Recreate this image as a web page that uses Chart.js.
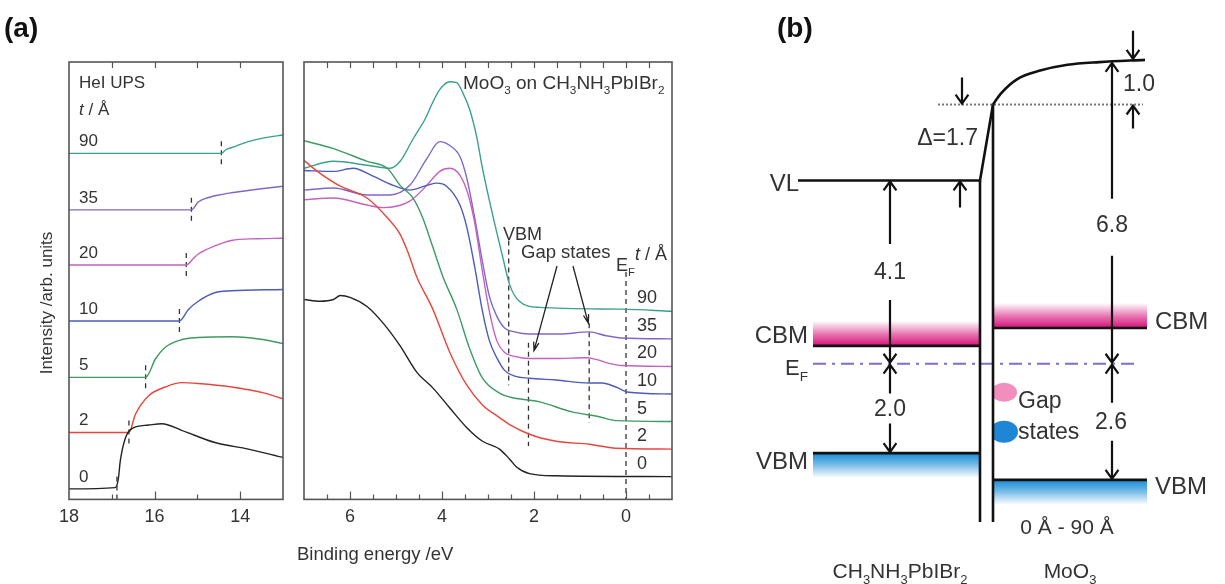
<!DOCTYPE html>
<html>
<head>
<meta charset="utf-8">
<script src="https://cdn.jsdelivr.net/npm/chart.js@4.4.1/dist/chart.umd.min.js"></script>
<style>
  html, body { margin: 0; padding: 0; background: #fff; }
  #wrap { position: relative; width: 1225px; height: 584px; overflow: hidden; }
  canvas { position: absolute; top: 0; }
</style>
</head>
<body>
<div id="wrap">
  <canvas id="cutoff" width="300" height="584" style="left:0"></canvas>
  <canvas id="valence" width="400" height="584" style="left:290px"></canvas>
  <canvas id="levels" width="525" height="584" style="left:700px"></canvas>
</div>
<script>
// MoO3 thickness steps (Å), bottom to top
var thickness = ['0', '2', '5', '10', '20', '35', '90'];
var lineColors = ['#222222', '#e8453c', '#3f9a62', '#4d5bbb', '#c462c2', '#7f67c9', '#3aa08f'];

// secondary electron cutoff, [binding energy eV, intensity arb.]
var cutoff0 = [[18, 2.4], [16.92, 2.7], [16.85, 4.5], [16.8, 8.9], [16.68, 14.1], [16.53, 16.2], [16.14, 17.0], [15.83, 17.3], [15.37, 15.8], [14.59, 13.0], [13.81, 11.5], [13.0, 9.6]];
var cutoff2 = [[18, 15.3], [16.6, 15.3], [16.45, 19.4], [16.14, 23.7], [15.75, 25.7], [15.37, 26.7], [14.98, 26.5], [14.2, 25.7], [13.43, 24.3], [13.0, 23.0]];
var cutoff5 = [[18, 27.9], [16.21, 27.9], [15.98, 32.1], [15.75, 34.8], [15.37, 36.5], [14.98, 37.0], [14.2, 37.2], [13.43, 36.5], [13.0, 35.6]];
var cutoff10 = [[18, 40.8], [15.42, 40.8], [15.21, 43.4], [14.98, 45.3], [14.58, 47.3], [14.21, 47.7], [13.0, 48.0]];
var cutoff20 = [[18, 53.6], [15.26, 53.6], [15.1, 55.0], [14.98, 56.1], [14.58, 58.0], [14.21, 59.2], [13.6, 59.6], [13.0, 59.7]];
var cutoff35 = [[18, 66.2], [15.14, 66.2], [14.98, 68.0], [14.81, 68.8], [14.5, 69.6], [14.21, 70.1], [13.6, 70.9], [13.0, 71.6]];
var cutoff90 = [[18, 79.1], [14.44, 79.1], [14.33, 80.0], [14.21, 80.4], [13.81, 81.8], [13.42, 82.7], [13.0, 83.3]];
var cutoffOnset = [16.88, 16.6, 16.21, 15.42, 15.26, 15.14, 14.44];

// valence band region, [binding energy eV, intensity arb.]
var valence0 = [[7.0, 45.7], [6.65, 45.3], [6.36, 45.7], [6.21, 46.6], [6.0, 46.2], [5.63, 44.1], [5.28, 40.3], [4.91, 35.1], [4.55, 29.1], [4.2, 25.5], [3.83, 20.9], [3.46, 16.4], [3.12, 13.3], [2.75, 11.5], [2.53, 9.2], [2.38, 7.4], [2.1, 5.9], [1.52, 5.4], [-1.0, 5.2]];
var valence2 = [[7.0, 77.5], [6.71, 75.0], [6.21, 71.6], [5.63, 68.9], [5.19, 64.4], [4.91, 60.6], [4.74, 56.5], [4.55, 50.9], [4.2, 43.5], [3.83, 33.6], [3.46, 26.1], [3.12, 21.6], [2.75, 18.7], [2.53, 17.1], [2.1, 14.9], [1.52, 13.3], [0.8, 12.6], [0.22, 11.7], [-1.0, 11.5]];
var valence5 = [[7.0, 82.0], [6.36, 80.2], [5.63, 77.3], [5.19, 75.7], [4.91, 71.8], [4.63, 68.9], [4.42, 64.4], [4.2, 57.7], [3.98, 50.9], [3.68, 43.5], [3.4, 34.5], [3.12, 27.7], [2.75, 24.3], [2.53, 23.4], [1.88, 22.3], [1.17, 20.0], [0.58, 18.9], [0.22, 18.0], [-1.0, 17.8]];
var valence10 = [[7.0, 75.2], [6.36, 75.0], [5.93, 75.7], [5.5, 73.9], [5.06, 71.8], [4.7, 70.7], [4.33, 71.8], [4.11, 72.3], [3.9, 71.6], [3.61, 67.3], [3.46, 62.2], [3.29, 53.2], [3.12, 43.0], [2.97, 36.3], [2.81, 32.4], [2.64, 29.5], [2.42, 28.2], [2.1, 27.7], [1.52, 27.3], [0.8, 26.6], [0.52, 26.6], [0.22, 25.7], [-0.06, 24.5], [-1.0, 24.1]];
var valence20 = [[7.0, 68.5], [6.36, 68.9], [5.63, 67.3], [5.28, 66.7], [4.7, 68.2], [4.33, 71.8], [4.05, 75.0], [3.83, 75.7], [3.61, 74.1], [3.44, 70.0], [3.29, 63.3], [3.12, 52.0], [2.97, 43.0], [2.81, 36.3], [2.64, 33.6], [2.42, 32.7], [2.1, 32.2], [1.52, 32.2], [0.87, 32.4], [0.65, 32.0], [0.37, 31.1], [0.09, 30.6], [-1.0, 30.4]];
var valence35 = [[7.0, 70.7], [6.36, 71.2], [5.63, 69.6], [5.13, 69.6], [4.7, 71.8], [4.33, 77.9], [4.05, 81.8], [3.83, 80.9], [3.61, 78.4], [3.46, 73.4], [3.29, 64.4], [3.12, 54.3], [2.97, 46.4], [2.81, 41.9], [2.64, 39.2], [2.42, 38.3], [2.1, 37.8], [1.45, 37.8], [0.8, 38.3], [0.43, 37.4], [0.09, 36.9], [-1.0, 36.7]];
var valence90 = [[7.0, 75.7], [6.36, 77.3], [5.63, 76.4], [5.13, 75.7], [4.91, 77.3], [4.63, 82.4], [4.37, 86.9], [4.2, 90.8], [4.05, 93.7], [3.83, 95.5], [3.68, 95.3], [3.55, 93.0], [3.4, 89.2], [3.25, 83.1], [3.12, 75.7], [2.9, 65.1], [2.68, 55.4], [2.53, 49.1], [2.32, 45.3], [1.88, 43.9], [0.09, 43.5], [-1.0, 43.0]];
var vbmOnset = 2.55;
var gapStates = [2.12, 0.8];

// energy levels in eV relative to EF: [CH3NH3PbIBr2, MoO3]
var vacuumLevel = [4.1, 6.8];
var interfaceDipole = 1.7;
var bandBending = 1.0;
var cbmLevel = [0.4, 0.8];
var vbmLevel = [-2.0, -2.6];
// vacuum level bending on the MoO3 side: [fraction of width, eV above the interface step]
var vlBend = [[0, 0], [0.05, 0.24], [0.16, 0.57], [0.31, 0.76], [0.49, 0.89], [0.7, 0.95], [1, 1.0]];

var FONT = "'Liberation Sans', Arial, Helvetica, sans-serif";
var INK = '#333';

function toXY(arr) {
  return arr.map(function (p) { return { x: p[0], y: p[1] }; });
}

// text with subscript / italic runs
function drawRich(ctx, parts, x, y, size, align) {
  function fontFor(p) {
    var s = p[1] === 'sub' ? size * 0.62 : size;
    return (p[1] === 'i' ? 'italic ' : '') + s + 'px ' + FONT;
  }
  var w = 0;
  parts.forEach(function (p) { ctx.font = fontFor(p); w += ctx.measureText(p[0]).width; });
  var cx = align === 'right' ? x - w : (align === 'center' ? x - w / 2 : x);
  ctx.textAlign = 'left';
  ctx.textBaseline = 'middle';
  parts.forEach(function (p) {
    ctx.font = fontFor(p);
    ctx.fillText(p[0], cx, p[1] === 'sub' ? y + size * 0.38 : y);
    cx += ctx.measureText(p[0]).width;
  });
}

function arrow(ctx, x1, y1, x2, y2, head, spread) {
  var ang = Math.atan2(y2 - y1, x2 - x1);
  ctx.beginPath();
  ctx.moveTo(x1, y1);
  ctx.lineTo(x2, y2);
  ctx.moveTo(x2 - head * Math.cos(ang - spread), y2 - head * Math.sin(ang - spread));
  ctx.lineTo(x2, y2);
  ctx.lineTo(x2 - head * Math.cos(ang + spread), y2 - head * Math.sin(ang + spread));
  ctx.stroke();
}

// box around the plot with inward ticks on top and bottom
var framePlugin = {
  id: 'frame',
  afterDatasetsDraw: function (chart, args, opts) {
    var a = chart.chartArea, ctx = chart.ctx, xs = chart.scales.x;
    ctx.save();
    ctx.strokeStyle = '#555';
    ctx.lineWidth = 1.6;
    ctx.strokeRect(a.left, a.top, a.right - a.left, a.bottom - a.top);
    ctx.lineWidth = 1.2;
    ctx.beginPath();
    opts.ticks.forEach(function (v) {
      var x = Math.round(xs.getPixelForValue(v)) + 0.5;
      var len = opts.major.indexOf(v) >= 0 ? 8 : 5;
      ctx.moveTo(x, a.bottom); ctx.lineTo(x, a.bottom - len);
      ctx.moveTo(x, a.top); ctx.lineTo(x, a.top + 6);
    });
    ctx.stroke();
    ctx.restore();
  }
};

function traces(list) {
  return list.map(function (s, i) {
    return { data: toXY(s), borderColor: lineColors[i], borderWidth: 1.4, pointRadius: 0, cubicInterpolationMode: 'monotone' };
  });
}

function markers(list) {
  return list.map(function (m) {
    return { data: [{ x: m[0], y: m[1] }, { x: m[0], y: m[2] }], borderColor: '#333', borderWidth: 1.3, borderDash: [5, 4], pointRadius: 0 };
  });
}

function spectrumOptions(xmin, xmax, labels, pad, frame) {
  return {
    responsive: false,
    animation: false,
    events: [],
    layout: { padding: pad },
    plugins: { legend: { display: false }, tooltip: { enabled: false }, frame: frame },
    scales: {
      x: {
        type: 'linear', reverse: true, min: xmin, max: xmax,
        afterBuildTicks: function (s) { s.ticks = labels.map(function (v) { return { value: v }; }); },
        grid: { display: false, drawTicks: false },
        border: { display: false },
        ticks: { padding: 7, color: INK, font: { family: FONT, size: 18 } }
      },
      y: { display: false, min: 0, max: 100 }
    }
  };
}

// ---- (a) left: cutoff region ----
var cutoffSeries = [cutoff0, cutoff2, cutoff5, cutoff10, cutoff20, cutoff35, cutoff90];
var cutoffMarks = cutoffOnset.map(function (e, i) {
  var base = cutoffSeries[i][0][1];
  return [e, Math.max(0, base - 2.5), base + 3];
});

new Chart(document.getElementById('cutoff'), {
  type: 'line',
  data: { datasets: traces(cutoffSeries).concat(markers(cutoffMarks)) },
  options: spectrumOptions(13, 18, [18, 16, 14], { left: 69, right: 17, top: 62, bottom: 49 },
    { ticks: [17, 16, 15, 14], major: [16, 14] }),
  plugins: [framePlugin, {
    id: 'cutoffText',
    afterDraw: function (chart) {
      var ctx = chart.ctx, ys = chart.scales.y;
      ctx.save();
      ctx.fillStyle = '#111';
      ctx.font = 'bold 28px ' + FONT;
      ctx.textBaseline = 'middle';
      ctx.fillText('(a)', 4, 29);
      ctx.fillStyle = INK;
      drawRich(ctx, [['HeI UPS', '']], 79, 83, 17, 'left');
      drawRich(ctx, [['t', 'i'], [' / Å', '']], 79, 110, 17, 'left');
      cutoffSeries.forEach(function (s, i) {
        drawRich(ctx, [[thickness[i], '']], 79, ys.getPixelForValue(s[0][1]) - 12, 17, 'left');
      });
      ctx.translate(47, 303);
      ctx.rotate(-Math.PI / 2);
      drawRich(ctx, [['Intensity /arb. units', '']], 0, 0, 17, 'center');
      ctx.restore();
    }
  }]
});

// ---- (a) right: valence region ----
var valenceSeries = [valence0, valence2, valence5, valence10, valence20, valence35, valence90];
var valenceMarks = [[vbmOnset, 59.2, 26.1], [gapStates[0], 35.8, 12.2], [gapStates[1], 40.3, 17.6], [0, 52.0, 0]];
var minorTicks = [];
for (var t = 6.5; t > -1; t -= 0.5) minorTicks.push(t);

new Chart(document.getElementById('valence'), {
  type: 'line',
  data: { datasets: traces(valenceSeries).concat(markers(valenceMarks)) },
  options: spectrumOptions(-1, 7, [6, 4, 2, 0], { left: 14, right: 18, top: 62, bottom: 49 },
    { ticks: minorTicks, major: [6, 4, 2, 0] }),
  plugins: [framePlugin, {
    id: 'valenceText',
    afterDraw: function (chart) {
      var ctx = chart.ctx, xs = chart.scales.x, ys = chart.scales.y;
      ctx.save();
      ctx.fillStyle = INK;
      drawRich(ctx, [['MoO', ''], ['3', 'sub'], [' on CH', ''], ['3', 'sub'], ['NH', ''], ['3', 'sub'], ['PbIBr', ''], ['2', 'sub']], 173, 84, 19, 'left');
      drawRich(ctx, [['Binding energy /eV', '']], 7, 555, 18.5, 'left');
      drawRich(ctx, [['VBM', '']], 213, 235, 18, 'left');
      drawRich(ctx, [['Gap states', '']], 231, 253, 18.5, 'left');
      drawRich(ctx, [['E', ''], ['F', 'sub']], 326, 266, 18, 'left');
      drawRich(ctx, [['t', 'i'], [' / Å', '']], 345, 255, 18, 'left');
      var lx = xs.getPixelForValue(-0.24);
      valenceSeries.forEach(function (s, i) {
        drawRich(ctx, [[thickness[i], '']], lx, ys.getPixelForValue(s[s.length - 1][1]) - 13, 18, 'left');
      });
      ctx.strokeStyle = '#222';
      ctx.lineWidth = 1.3;
      arrow(ctx, 267, 266, xs.getPixelForValue(2.0), ys.getPixelForValue(34.0), 9, 0.3);
      arrow(ctx, 283, 266, xs.getPixelForValue(0.82), ys.getPixelForValue(40.3), 9, 0.3);
      ctx.restore();
    }
  }]
});

// ---- (b) energy level diagram ----
var X = { vl: 98, bandL: 113, jL: 280, jR: 293, bandR: 447, efEnd: 437, dotL: 238, dotR: 443, bottom: -3.54 };
var stepTop = vacuumLevel[0] + interfaceDipole;

function seg(points, extra) {
  var d = { data: toXY(points), borderColor: '#111', borderWidth: 2.6, pointRadius: 0, tension: 0 };
  for (var k in extra) d[k] = extra[k];
  return d;
}

var bendPoints = vlBend.map(function (p) { return [X.jR + p[0] * (X.bandR - 2 - X.jR), stepTop + p[1]]; });

var diagramSets = [
  seg([[X.vl, vacuumLevel[0]], [X.jL, vacuumLevel[0]], [X.jR, stepTop]]),
  seg(bendPoints, { cubicInterpolationMode: 'monotone' }),
  seg([[X.jL, vacuumLevel[0]], [X.jL, X.bottom]]),
  seg([[X.jR, stepTop], [X.jR, X.bottom]]),
  seg([[X.bandL, cbmLevel[0]], [X.jL, cbmLevel[0]]]),
  seg([[X.bandL, vbmLevel[0]], [X.jL, vbmLevel[0]]]),
  seg([[X.jR, cbmLevel[1]], [X.bandR, cbmLevel[1]]]),
  seg([[X.jR, vbmLevel[1]], [X.bandR, vbmLevel[1]]]),
  seg([[X.bandL, 0], [X.efEnd, 0]], { borderColor: '#7b70c4', borderWidth: 2, borderDash: [13, 6, 3, 6] }),
  seg([[X.dotL, stepTop], [X.dotR, stepTop]], { borderColor: '#777', borderWidth: 2, borderDash: [2, 2] })
];

var bandPlugin = {
  id: 'bands',
  beforeDatasetsDraw: function (chart) {
    var ctx = chart.ctx, ys = chart.scales.y;
    function band(x1, x2, level, up, c1) {
      var y = ys.getPixelForValue(level), y2 = up ? y - 25 : y + 25;
      var g = ctx.createLinearGradient(0, y, 0, y2);
      g.addColorStop(0, c1);
      g.addColorStop(0.45, c1.replace('1)', '0.6)'));
      g.addColorStop(1, c1.replace('1)', '0)'));
      ctx.fillStyle = g;
      ctx.fillRect(x1, Math.min(y, y2), x2 - x1, 25);
    }
    ctx.save();
    band(X.bandL, X.jL, cbmLevel[0], true, 'rgba(214,18,122,1)');
    band(X.jR, X.bandR, cbmLevel[1], true, 'rgba(214,18,122,1)');
    band(X.bandL, X.jL, vbmLevel[0], false, 'rgba(22,140,214,1)');
    band(X.jR, X.bandR, vbmLevel[1], false, 'rgba(22,140,214,1)');
    // gap state lobes on the MoO3 side
    ctx.beginPath();
    ctx.rect(X.jR, 0, 60, chart.height);
    ctx.clip();
    ctx.fillStyle = '#f08fbd';
    ctx.beginPath();
    ctx.ellipse(X.jR + 11, ys.getPixelForValue(-0.64), 13, 9.5, 0, 0, Math.PI * 2);
    ctx.fill();
    ctx.fillStyle = '#1f86d6';
    ctx.beginPath();
    ctx.ellipse(X.jR + 11, ys.getPixelForValue(-1.52), 14, 11, 0, 0, Math.PI * 2);
    ctx.fill();
    ctx.restore();
  },
  afterDatasetsDraw: function (chart) {
    var ctx = chart.ctx, ys = chart.scales.y;
    var yVL = ys.getPixelForValue(vacuumLevel[0]), yTop = ys.getPixelForValue(vacuumLevel[1]);
    var yStep = ys.getPixelForValue(stepTop), yEF = ys.getPixelForValue(0);
    var yVBl = ys.getPixelForValue(vbmLevel[0]), yVBr = ys.getPixelForValue(vbmLevel[1]);
    var yCBl = ys.getPixelForValue(cbmLevel[0]), yCBr = ys.getPixelForValue(cbmLevel[1]);
    ctx.save();
    ctx.strokeStyle = '#111';
    ctx.lineWidth = 2.2;
    var H = 11, S = 0.62;
    // work function, left
    var m1 = (yVL + yEF) / 2;
    arrow(ctx, 190, m1 - 28, 190, yVL + 1, H, S);
    arrow(ctx, 190, m1 + 28, 190, yEF - 1, H, S);
    // MoO3 work function
    var m2 = (yTop + yEF) / 2 + 12;
    arrow(ctx, 412, m2 - 25, 412, yTop + 3, H, S);
    arrow(ctx, 412, m2 + 32, 412, yEF - 1, H, S);
    // interface dipole
    arrow(ctx, 262, yStep - 27, 262, yStep - 1, H, S);
    arrow(ctx, 260, yVL + 27, 260, yVL + 1, H, S);
    // band bending
    arrow(ctx, 433, yTop - 29, 433, yTop - 1, H, S);
    arrow(ctx, 433, yStep + 24, 433, yStep + 1, H, S);
    // EF - VBM offsets
    var m3 = (yEF + yVBl) / 2;
    arrow(ctx, 190, m3 - 15, 190, yEF + 1, H, S);
    arrow(ctx, 190, m3 + 15, 190, yVBl - 1, H, S);
    var m4 = (yEF + yVBr) / 2;
    arrow(ctx, 412, m4 - 19, 412, yEF + 1, H, S);
    arrow(ctx, 412, m4 + 19, 412, yVBr - 1, H, S);

    ctx.fillStyle = INK;
    var F = 23;
    drawRich(ctx, [['VL', '']], 99, yVL + 4, 24, 'right');
    drawRich(ctx, [['CBM', '']], 108, yCBl - 9, 24, 'right');
    drawRich(ctx, [['E', ''], ['F', 'sub']], 108, yEF + 5, 22, 'right');
    drawRich(ctx, [['VBM', '']], 108, yVBl + 9, 24, 'right');
    drawRich(ctx, [['CBM', '']], 455, yCBr - 6, 24, 'left');
    drawRich(ctx, [['VBM', '']], 455, yVBr + 7, 24, 'left');
    drawRich(ctx, [['Δ=' + interfaceDipole.toFixed(1), '']], 278, (yVL + yStep) / 2 - 4, F, 'right');
    drawRich(ctx, [[bandBending.toFixed(1), '']], 423, (yTop + yStep) / 2 + 2, F, 'left');
    drawRich(ctx, [[vacuumLevel[0].toFixed(1), '']], 190, m1 + 1, F, 'center');
    drawRich(ctx, [[vacuumLevel[1].toFixed(1), '']], 412, m2 + 2, F, 'center');
    drawRich(ctx, [[(-vbmLevel[0]).toFixed(1), '']], 190, m3 + 1, F, 'center');
    drawRich(ctx, [[(-vbmLevel[1]).toFixed(1), '']], 411, m4 + 1, F, 'center');
    drawRich(ctx, [['Gap', '']], 318, ys.getPixelForValue(-0.85), F, 'left');
    drawRich(ctx, [['states', '']], 318, ys.getPixelForValue(-1.55), F, 'left');
    drawRich(ctx, [['0 Å - 90 Å', '']], 367, 528, 21, 'center');
    drawRich(ctx, [['CH', ''], ['3', 'sub'], ['NH', ''], ['3', 'sub'], ['PbIBr', ''], ['2', 'sub']], 200, 572, 21, 'center');
    drawRich(ctx, [['MoO', ''], ['3', 'sub']], 370, 572, 21, 'center');
    ctx.fillStyle = '#111';
    ctx.font = 'bold 28px ' + FONT;
    ctx.textBaseline = 'middle';
    ctx.textAlign = 'left';
    ctx.fillText('(b)', 77, 29);
    ctx.restore();
  }
};

new Chart(document.getElementById('levels'), {
  type: 'line',
  data: { datasets: diagramSets },
  options: {
    responsive: false,
    animation: false,
    events: [],
    layout: { padding: 0 },
    plugins: { legend: { display: false }, tooltip: { enabled: false } },
    scales: {
      x: { type: 'linear', display: false, min: 0, max: 525 },
      y: { display: false, min: -4.93, max: 8.14 }
    }
  },
  plugins: [bandPlugin]
});
</script>
</body>
</html>
